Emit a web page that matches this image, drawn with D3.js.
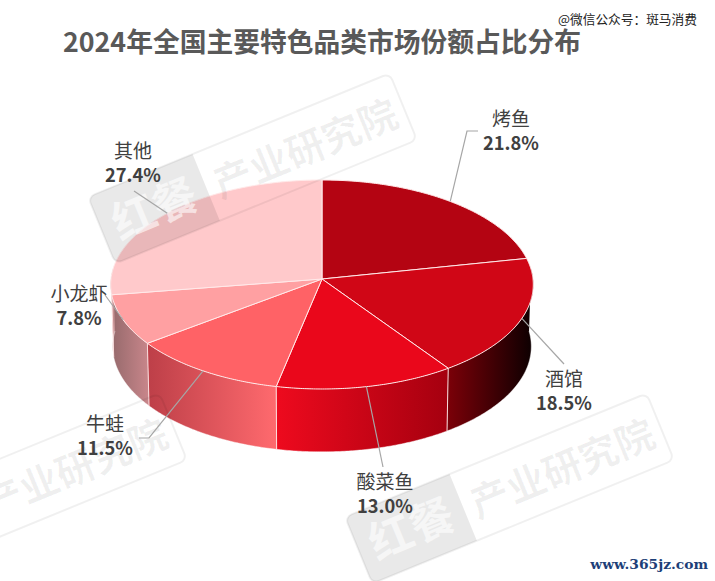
<!DOCTYPE html>
<html lang="zh"><head><meta charset="utf-8">
<script src="https://cdn.jsdelivr.net/npm/d3@7/dist/d3.min.js"></script>
<style>html,body{margin:0;padding:0;background:#fff}svg{display:block}text{font-family:"Noto Sans CJK SC","Noto Sans",sans-serif}</style>
</head><body><svg id="c" width="715" height="581"></svg>
<script>
// ---- data ----
const categories = ["烤鱼","酒馆","酸菜鱼","牛蛙","小龙虾","其他"];
const shares = [21.8,18.5,13.0,11.5,7.8,27.4];
const chartTitle = "2024年全国主要特色品类市场份额占比分布";
const creditText = "@微信公众号：斑马消费";
const siteText = "www.365jz.com";
const watermarkBrand = "红餐";
const watermarkName = "产业研究院";
// ---- styles ----
const topColors = ["#b40412","#d00616","#ea071b","#ff6266","#ffa0a2","#ffc9cb"];
const sideStops = [["#b40412","#800008"],["#7c0008","#0c0001"],["#ee0a1e","#a5000f"],["#bd3f48","#ff6a6e"],["#966a6c","#c9868b"],["#b07c7e","#d09a9c"]];
// label layout per slice: centre of label, elbow and end of leader relative to the pie
const labelPos = [[511,119],[564,379],[385,482],[105,424],[79,294],[133,151]];
const leaderEnds = [[[467,131],[478,131]],[[564,364]],[[383,467]],[[149,438],[139,438]],[[105,295]],[[134,191]]];
const watermarks = [[88,197,true],[345,517,true],[-142,517,false]];

const svg = d3.select("#c");
const defs = svg.append("defs");
const cx=322, topY=279, botY=341, R=211, Ry=104.2, k=0.0526, botR=209, botRy=105;
const tau=Math.PI*2;
function project(a, y0, rx, ry){
  const u=Math.sin(a), v=-Math.cos(a), s=1/(1-k*v);
  return [cx+rx*u*s, y0+ry*v*s];
}
const topPt=a=>project(a,topY,R,Ry), botPt=a=>project(a,botY,botR,botRy);
const arcs = d3.pie().sort(null).value(d=>d).startAngle(0).endAngle(tau)(shares);
const line = d3.line();
const steps=(a,b)=>{const n=Math.max(2,Math.ceil((b-a)/0.01));return d3.range(n+1).map(i=>a+(b-a)*i/n);};

// side walls
const visA=Math.PI*0.47, visB=Math.PI*1.53;
arcs.forEach((d,i)=>{
  const a=Math.max(d.startAngle,visA), b=Math.min(d.endAngle,visB);
  if(b<=a) return;
  const g=defs.append("linearGradient").attr("id","side"+i).attr("x1",0).attr("x2",1).attr("y1",0).attr("y2",0);
  g.append("stop").attr("offset",0).attr("stop-color",sideStops[i][0]);
  g.append("stop").attr("offset",1).attr("stop-color",sideStops[i][1]);
  const as=steps(a,b);
  const pts=as.map(topPt).concat(as.slice().reverse().map(botPt));
  svg.append("path").attr("d",line(pts)+"Z").attr("fill",`url(#side${i})`);
  if(d.startAngle>visA && d.startAngle<visB){
    svg.append("path").attr("d",line([topPt(d.startAngle),botPt(d.startAngle)])).attr("stroke","#fbdcdc").attr("stroke-width",1).attr("fill","none");
  }
});
svg.append("path").attr("d",line(steps(visA,visB).map(botPt))).attr("fill","none").attr("stroke","#fff").attr("stroke-opacity",.45).attr("stroke-width",1);

// top faces
arcs.forEach((d,i)=>{
  const pts=[[cx,topY]].concat(steps(d.startAngle,d.endAngle).map(topPt));
  svg.append("path").attr("d",line(pts)+"Z").attr("fill",topColors[i]).attr("stroke","#ffe9e9").attr("stroke-width",1).attr("stroke-linejoin","round");
});

// watermarks
watermarks.forEach(p=>{
  const g=svg.append("g").attr("transform",`translate(${p[0]},${p[1]}) rotate(-22.3)`);
  g.append("rect").attr("width",326).attr("height",72).attr("rx",7).attr("fill","none").attr("stroke","#000").attr("stroke-opacity",.06).attr("stroke-width",2);
  g.append("path").attr("d","M7,0H113V72H7A7,7 0 0 1 0,65V7A7,7 0 0 1 7,0Z").attr("fill","#000").attr("fill-opacity",.085);
  if(p[2]) g.append("text").attr("x",57).attr("y",52).attr("text-anchor","middle").attr("font-size",44).attr("font-weight",700).attr("fill","#fff").attr("fill-opacity",.6).text(watermarkBrand);
  g.append("text").attr("x",122).attr("y",52).attr("font-size",39).attr("font-weight",700).attr("fill","#000").attr("fill-opacity",.06).text(watermarkName);
});

// leaders
arcs.forEach((d,i)=>{
  const mid=(d.startAngle+d.endAngle)/2;
  svg.append("path").attr("d",line([topPt(mid)].concat(leaderEnds[i]))).attr("fill","none").attr("stroke","#a6a6a6").attr("stroke-width",1.2);
});
// labels
categories.forEach((c,i)=>{
  const [x,y]=labelPos[i];
  svg.append("text").attr("x",x).attr("y",y+6.5).attr("text-anchor","middle").attr("font-size",19).attr("fill","#404040").text(c);
  svg.append("text").attr("x",x).attr("y",y+30.5).attr("text-anchor","middle").attr("font-size",18.3).attr("font-weight",700).attr("fill","#404040").text(d3.format(".1f")(shares[i])+"%");
});
// title & credits
svg.append("text").attr("x",63).attr("y",52).attr("font-size",26.75).attr("font-weight",700).attr("fill","#595959").text(chartTitle);
svg.append("text").attr("x",558).attr("y",24).attr("font-size",12.7).attr("fill","#222").text(creditText);
svg.append("text").attr("x",708).attr("y",569).attr("text-anchor","end").attr("font-size",13.8).attr("font-weight",700).attr("fill","#1d3f78").style("font-family","'DejaVu Serif',serif").text(siteText);
</script></body></html>
